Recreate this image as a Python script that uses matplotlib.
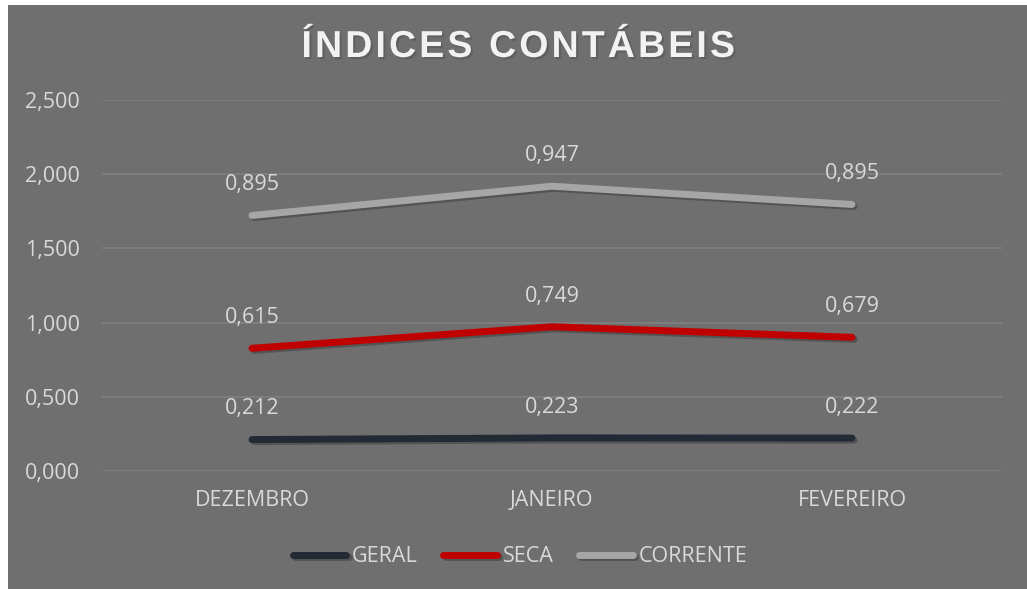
import matplotlib.pyplot as plt
import matplotlib.patheffects as pe
import numpy as np
from matplotlib.patches import Rectangle

# dados (linhas empilhadas, rótulos mostram o valor de cada série)
meses = ["DEZEMBRO", "JANEIRO", "FEVEREIRO"]
geral = np.array([0.212, 0.223, 0.222])
seca = np.array([0.615, 0.749, 0.679])
corrente = np.array([0.895, 0.947, 0.895])
series = ["GERAL", "SECA", "CORRENTE"]
cores = ["#222a35", "#c00000", "#a6a6a6"]
y_ticks = [0.0, 0.5, 1.0, 1.5, 2.0, 2.5]

bg = "#6f6f6f"
txt = "#d9d9d9"
fs = 15.5

fig = plt.figure(figsize=(10.27, 5.89), dpi=100, facecolor="white")
fundo = Rectangle((8 / 1027, 0), 1, 1 - 5 / 589, transform=fig.transFigure,
                  facecolor=bg, edgecolor="none", zorder=-10)
fig.patches.append(fundo)

ax = fig.add_axes([102 / 1027, 1 - 471 / 589, 900 / 1027, 371 / 589])
ax.set_facecolor("none")
ax.set_zorder(1)

x = np.arange(len(meses))
acumulado = np.zeros(len(meses))
for nome, vals, cor in zip(series, [geral, seca, corrente], cores):
    acumulado = acumulado + vals
    ax.plot(x, acumulado, color=cor, lw=5, solid_capstyle="round", label=nome, zorder=3,
            path_effects=[pe.SimpleLineShadow(offset=(1.5, -1.5), alpha=0.25), pe.Normal()])
    for xi, yi, v in zip(x, acumulado, vals):
        ax.annotate(f"{v:.3f}".replace(".", ","), (xi, yi), xytext=(0, 22),
                    textcoords="offset points", ha="center", va="center",
                    color=txt, fontsize=fs, family="Open Sans")

ax.set_xlim(-0.5, 2.5)
ax.set_ylim(0, 2.5)
ax.set_yticks(y_ticks)
ax.set_yticklabels([f"{t:.3f}".replace(".", ",") for t in y_ticks])
ax.set_xticks(x)
ax.set_xticklabels(meses)
ax.tick_params(length=0, colors=txt, labelsize=fs)
ax.tick_params(axis="y", pad=16)
ax.tick_params(axis="x", pad=14)
for lab in ax.get_xticklabels() + ax.get_yticklabels():
    lab.set_family("Open Sans")
ax.grid(axis="y", color="#818181", lw=1.2)
ax.set_axisbelow(True)
for s in ax.spines.values():
    s.set_visible(False)

titulo = "\u200a \u200a".join("\u200a".join(p) for p in "ÍNDICES CONTÁBEIS".split())
fig.text(518 / 1027, 1 - 47 / 589, titulo,
         ha="center", va="center", fontsize=27, fontweight="bold", color="#f2f2f2",
         family="Liberation Sans",
         path_effects=[pe.withSimplePatchShadow(offset=(1.5, -1.5), alpha=0.4)])

fig.legend(loc="center", bbox_to_anchor=(520 / 1027, 1 - 557 / 589), ncol=3, frameon=False,
           handlelength=2.5, handletextpad=0.25, columnspacing=1.2,
           prop={"family": "Open Sans", "size": fs}, labelcolor=txt)

fig.savefig("out.png", dpi=100, facecolor="white")
